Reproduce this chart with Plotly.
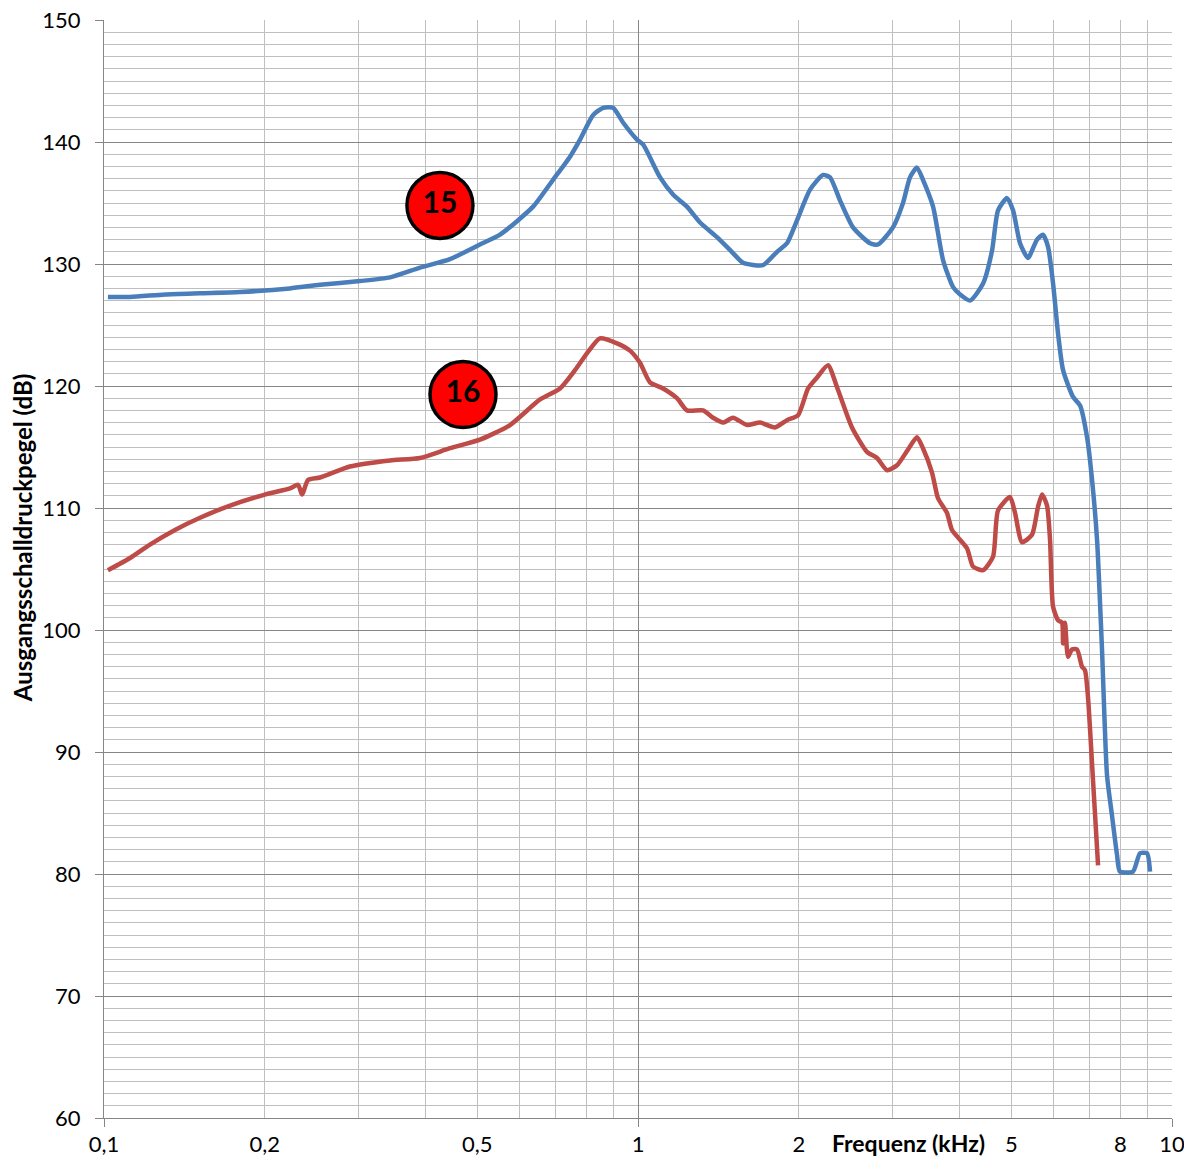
import plotly.graph_objects as go

# ---- data (frequency in kHz, level in dB) ----
blue_f = [0.1017,0.1119,0.1301,0.1513,0.1797,0.2230,0.2538,0.3016,0.3433,0.3907,0.4445,0.5059,0.5515,0.6361,0.6932,0.7459,0.7788,0.8236,0.8601,0.8980,0.9374,0.9957,1.022,1.100,1.163,1.235,1.307,1.406,1.506,1.573,1.714,1.821,1.901,1.986,2.100,2.221,2.289,2.390,2.527,2.720,2.815,3.002,3.135,3.231,3.330,3.417,3.569,3.727,3.891,4.010,4.186,4.428,4.603,4.723,4.910,5.039,5.193,5.375,5.588,5.734,5.860,5.988,6.118,6.252,6.527,6.727,6.933,7.084,7.238,7.395,7.556,7.720,7.888,7.990,8.452,8.711,8.979,9.096]
blue_db = [127.3,127.3,127.5,127.6,127.7,128.0,128.3,128.6,128.9,129.7,130.4,131.6,132.4,134.7,136.9,138.8,140.2,142.2,142.8,142.8,141.6,140.2,139.8,137.1,135.7,134.7,133.4,132.2,130.9,130.1,129.9,131.0,131.7,133.6,136.1,137.3,137.1,135.2,133.0,131.7,131.6,133.0,135.0,137.1,137.9,136.9,134.7,130.3,128.1,127.5,127.0,128.4,131.1,134.4,135.4,134.4,131.7,130.5,132.0,132.4,131.4,128.4,124.3,121.3,119.1,118.4,115.8,112.3,107.4,98.4,88.1,84.8,81.6,80.2,80.2,81.7,81.7,80.2]

red_f = [0.1017,0.1119,0.1219,0.1358,0.1513,0.1722,0.2001,0.2230,0.2309,0.2349,0.2410,0.2538,0.2888,0.3433,0.3907,0.4445,0.5059,0.5758,0.6555,0.7144,0.7621,0.8062,0.8487,0.9134,0.9661,1.0086,1.053,1.114,1.183,1.235,1.324,1.382,1.443,1.506,1.600,1.692,1.805,1.901,1.994,2.082,2.164,2.269,2.359,2.516,2.684,2.803,2.927,3.055,3.204,3.330,3.417,3.553,3.646,3.790,3.873,4.131,4.240,4.428,4.622,4.723,4.973,5.082,5.238,5.468,5.612,5.710,5.834,5.910,5.988,6.118,6.224,6.251,6.305,6.387,6.496,6.640,6.784,6.872,6.961,7.113,7.270]
red_db = [104.9,105.9,107.0,108.2,109.2,110.2,111.1,111.6,111.9,111.1,112.3,112.5,113.4,113.9,114.1,114.9,115.6,116.8,118.9,119.8,121.3,122.8,123.9,123.5,122.9,121.9,120.3,119.8,119.0,118.0,118.0,117.4,117.0,117.4,116.8,117.0,116.6,117.2,117.6,119.8,120.7,121.7,119.9,116.6,114.6,114.1,113.1,113.5,114.8,115.8,114.9,112.9,110.8,109.6,108.2,106.7,105.2,104.9,106.0,109.8,110.9,109.6,107.2,107.8,110.1,111.1,110.2,107.4,101.9,100.8,100.6,98.9,100.6,97.8,98.4,98.4,97.0,96.7,94.5,87.7,80.7]

curve_labels = ["15", "16"]
label_f = [0.4257, 0.4702]
label_db = [134.8, 119.3]

x_tickvals = [0.1, 0.2, 0.5, 1, 2, 5, 8, 10]
x_ticktext = ["0,1", "0,2", "0,5", "1", "2", "5", "8", "10"]
x_minor_vals = [m * d for d in (0.1, 1) for m in range(1, 10)] + [10]
x_decades = [0.1, 1, 10]
y_ticks = list(range(60, 151, 10))

BLUE = "#4a7ebb"
RED = "#be4b48"
DARK = "#868686"
LIGHT = "#bfbfbf"
FONT = "Lato"

fig = go.Figure()
fig.add_trace(go.Scatter(x=blue_f, y=blue_db, mode="lines",
                         line=dict(color=BLUE, width=4.5, shape="spline", smoothing=0.6),
                         showlegend=False, hoverinfo="skip"))
fig.add_trace(go.Scatter(x=red_f, y=red_db, mode="lines",
                         line=dict(color=RED, width=4.5, shape="spline", smoothing=0.6),
                         showlegend=False, hoverinfo="skip"))
fig.add_trace(go.Scatter(x=label_f, y=label_db, mode="markers+text", text=curve_labels,
                         textposition="middle center",
                         textfont=dict(family=FONT, size=30, color="black", weight="bold"),
                         marker=dict(size=66, color="#ff0000", line=dict(color="black", width=3.5)),
                         showlegend=False, hoverinfo="skip"))
# invisible trace for the decade-grid overlay axis
fig.add_trace(go.Scatter(x=[], y=[], xaxis="x2", showlegend=False))

fig.update_layout(
    width=1184, height=1158,
    margin=dict(l=104, r=12, t=20, b=40),
    paper_bgcolor="white", plot_bgcolor="white",
    font=dict(family=FONT, size=22, color="black"),
    xaxis=dict(type="log", range=[-1, 1], tickvals=x_tickvals, ticktext=x_ticktext,
               ticks="outside", ticklen=6, tickcolor="rgba(0,0,0,0)", automargin=False,
               ticklabeloverflow="allow",
               showgrid=False, zeroline=False, showline=True, linecolor=DARK, linewidth=1.3,
               minor=dict(tickvals=x_minor_vals, showgrid=True, gridcolor=LIGHT, gridwidth=1.3, ticks=""),
               tickfont=dict(family=FONT, size=22)),
    xaxis2=dict(type="log", range=[-1, 1], overlaying="x", side="bottom", automargin=False,
                tickvals=x_decades, showticklabels=False, ticks="outside", ticklen=8,
                tickcolor=DARK, tickwidth=1.3, showgrid=True, gridcolor=DARK, gridwidth=1.3,
                zeroline=False, showline=False),
    yaxis=dict(range=[60, 150], tickvals=y_ticks, ticks="outside", ticklen=8, automargin=False,
               ticklabelstandoff=10,
               tickcolor=DARK, tickwidth=1.3, showgrid=True, gridcolor=DARK, gridwidth=1.3,
               zeroline=False, showline=True, linecolor=DARK, linewidth=1.3,
               minor=dict(dtick=1, showgrid=True, gridcolor=LIGHT, gridwidth=1.3, ticks=""),
               tickfont=dict(family=FONT, size=22)),
    annotations=[
        dict(text="<b>Ausgangsschalldruckpegel (dB)</b>", xref="paper", yref="paper",
             x=-0.0768, y=0.529, textangle=-90, showarrow=False,
             font=dict(family=FONT, size=24, color="black"), xanchor="center", yanchor="middle"),
        dict(text="<b>Frequenz (kHz)</b>", xref="paper", yref="paper",
             x=0.7537, y=-0.0225, showarrow=False,
             font=dict(family=FONT, size=23, color="black"), xanchor="center", yanchor="middle"),
    ],
)

fig.write_html("out.html", config={"displayModeBar": False},
               post_script="document.body.style.margin='0px';document.body.style.overflow='hidden';")
